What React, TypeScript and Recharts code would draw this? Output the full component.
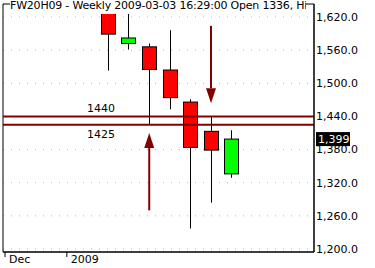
import React from "react";
import {
  ComposedChart,
  Bar,
  XAxis,
  YAxis,
  CartesianGrid,
  ReferenceLine,
  ReferenceArea,
} from "recharts";

// week index counted from the week of 2008-12-15
const weeks = [5, 6, 7, 8, 9, 10, 11];
const opens = [1635, 1572, 1566, 1524, 1466, 1413, 1336];
const highs = [1640, 1630, 1572, 1596, 1471, 1440, 1415];
const lows = [1523, 1561, 1425, 1453, 1237, 1284, 1329];
const closes = [1589, 1582, 1525, 1474, 1384, 1379, 1399];

const priceTicks = [1200, 1260, 1320, 1380, 1440, 1500, 1560, 1620];
const dateTicks = [0, 3];
const dateLabels = ["Dec", "2009"];

const levels = [1440, 1425];
const arrowWeeks = [7, 10];
const arrowFrom = [1270, 1604];
const arrowTo = [1410, 1464];
const lastPrice = 1399;
const title =
  "FW20H09 - Weekly 2009-03-03 16:29:00 Open 1336, High 1415, Low 1329, Close 1399";

const data = weeks.map((w, i) => ({
  week: w,
  open: opens[i],
  high: highs[i],
  low: lows[i],
  close: closes[i],
}));

const FONT = "DejaVu Sans";
const DARK_RED = "#800000";
const yDomain = [1194.57, 1643.53];
const xDomain = [-0.1, 15];

function Candle(props: any) {
  const { x, y, width, height, payload } = props;
  const { open, close, high, low } = payload;
  const h = Math.abs(height);
  const k = h / (high - low);
  const top = y + (high - Math.max(open, close)) * k;
  const bottom = y + (high - Math.min(open, close)) * k;
  const cx = Math.round(x + width / 2) + 0.5;
  const up = close >= open;
  return (
    <g>
      <line x1={cx} x2={cx} y1={y} y2={y + h} stroke="#000" />
      <rect
        x={Math.round(x) + 0.5}
        y={top}
        width={Math.round(width)}
        height={bottom - top}
        fill={up ? "#00ff00" : "#ff0000"}
        stroke="#000"
      />
    </g>
  );
}

function Arrow(props: any) {
  const { x1, y1, x2, y2 } = props;
  const dir = y2 < y1 ? -1 : 1;
  const base = y2 - dir * 15;
  return (
    <g>
      <line x1={x1} y1={y1} x2={x2} y2={base} stroke={DARK_RED} strokeWidth={2} />
      <polygon
        points={`${x2 - 5},${base} ${x2 + 5},${base} ${x2},${y2}`}
        fill={DARK_RED}
      />
    </g>
  );
}

function DateTick(props: any) {
  const { x, y, payload } = props;
  const i = dateTicks.indexOf(payload.value);
  return (
    <g>
      <line x1={x} x2={x} y1={y} y2={y + 5} stroke="#000" />
      <text x={x + 4} y={y + 11} fill="#000" fontSize={11} fontFamily={FONT}>
        {dateLabels[i]}
      </text>
    </g>
  );
}

export default function App() {
  return (
    <div style={{ position: "absolute", left: 0, top: 0, width: 375, height: 268, background: "#fff" }}>
      <ComposedChart
        width={375}
        height={268}
        data={data}
        margin={{ top: 4, right: 0, bottom: 0, left: 3 }}
        style={{ fontFamily: FONT }}
      >
        <CartesianGrid vertical={false} stroke="#b4b4b4" strokeDasharray="1 7" />
        <XAxis
          dataKey="week"
          type="number"
          domain={xDomain}
          allowDataOverflow
          ticks={dateTicks}
          tick={<DateTick />}
          tickLine={false}
          tickSize={0}
          tickMargin={0}
          height={16}
          axisLine={{ stroke: "#000" }}
          interval={0}
        />
        <YAxis
          orientation="right"
          domain={yDomain}
          allowDataOverflow
          ticks={priceTicks}
          width={61}
          tickLine={false}
          tickSize={0}
          tickMargin={2}
          axisLine={{ stroke: "#000" }}
          tick={{ fill: "#000", fontSize: 11, fontFamily: FONT, textAnchor: "start" }}
          tickFormatter={(v) =>
            v.toLocaleString("en-US", { minimumFractionDigits: 1, maximumFractionDigits: 1 })
          }
        />
        <ReferenceArea
          x1={xDomain[0]}
          x2={xDomain[1]}
          y1={yDomain[0]}
          y2={yDomain[1]}
          fill="none"
          stroke="#000"
          ifOverflow="visible"
        />
        {levels.map((lv, i) => (
          <ReferenceLine
            key={lv}
            y={lv}
            stroke={DARK_RED}
            strokeWidth={2}
            label={(p: any) => (
              <text
                x={p.viewBox.x + 84}
                y={i === 0 ? p.viewBox.y - 4 : p.viewBox.y + 13}
                fill="#000"
                fontSize={11}
                fontFamily={FONT}
              >
                {lv}
              </text>
            )}
          />
        ))}
        <Bar
          dataKey={(d: any) => [d.low, d.high]}
          barSize={14}
          shape={<Candle />}
          isAnimationActive={false}
        />
        {arrowWeeks.map((w, i) => (
          <ReferenceLine
            key={"a" + w}
            segment={[
              { x: w, y: arrowFrom[i] },
              { x: w, y: arrowTo[i] },
            ]}
            shape={<Arrow />}
          />
        ))}
        <ReferenceLine
          y={lastPrice}
          stroke="none"
          label={(p: any) => {
            const { x, y, width } = p.viewBox;
            return (
              <g>
                <rect x={x + width + 2} y={y - 7} width={34} height={14} fill="#000" />
                <text x={x + width + 4} y={y + 4} fill="#ffffe0" fontSize={11} fontFamily={FONT}>
                  {lastPrice.toLocaleString("en-US")}
                </text>
              </g>
            );
          }}
        />
      </ComposedChart>
      <div
        style={{
          position: "absolute",
          left: 10,
          top: 0,
          width: 296,
          height: 14,
          background: "#fff",
          overflow: "hidden",
          whiteSpace: "nowrap",
          fontFamily: FONT,
          fontSize: 11,
          lineHeight: "12px",
          letterSpacing: "-0.2px",
          color: "#000",
        }}
      >
        {title}
      </div>
    </div>
  );
}
